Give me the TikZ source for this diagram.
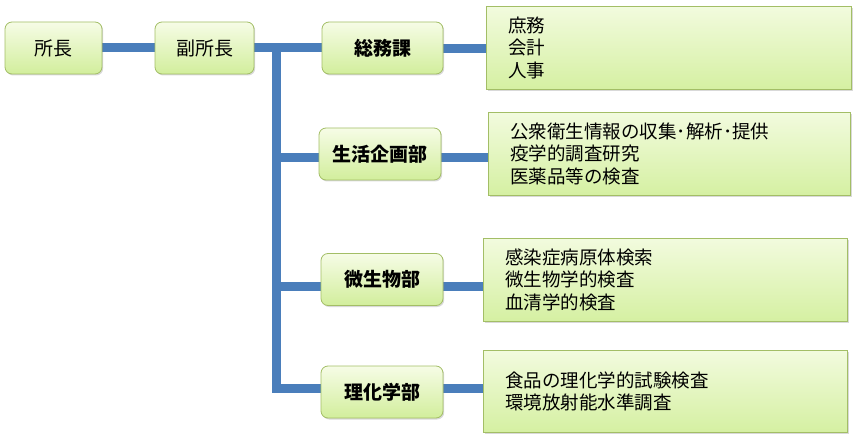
\documentclass[tikz,border=0pt]{standalone}
\usepackage{fontspec}
\newfontfamily\jp{Noto Sans CJK JP}
\usetikzlibrary{shadows,backgrounds}
\definecolor{lnk}{HTML}{4A7EBB}
\definecolor{bord}{HTML}{A3BE66}
\definecolor{gtop}{HTML}{F6FCE6}
\definecolor{gbot}{HTML}{D2EE9C}
\definecolor{ltop}{HTML}{F2FBDE}
\definecolor{lbot}{HTML}{D5F0A2}
\begin{document}
\begin{tikzpicture}[x=1pt,y=-1pt,
  unit/.style={draw=bord, line width=0.8pt, rounded corners=7pt,
    top color=gtop, bottom color=gbot, minimum height=52pt, inner sep=0pt,
    drop shadow={shadow xshift=1.2pt, shadow yshift=-1.5pt, opacity=0.3},
    font=\jp\fontsize{19}{22}\selectfont},
  dept/.style={unit, font=\jp\bfseries\fontsize{19}{22}\selectfont},
  listbox/.style={draw=bord, line width=0.8pt, top color=ltop, bottom color=lbot,
    minimum height=83pt, inner xsep=22pt, inner ysep=0pt, align=left,
    text width=321pt, minimum width=365pt, anchor=north west,
    drop shadow={shadow xshift=1.5pt, shadow yshift=-1.5pt, opacity=0.3},
    font=\jp\fontsize{18.5}{22.5}\selectfont},
  link/.style={draw=lnk, line width=9pt}
]
\useasboundingbox (0,0) rectangle (858,443);

\coordinate (tt) at (276,48);
\coordinate (tb) at (276,392.5);
\coordinate (t2) at (272,158);
\coordinate (t3) at (272,286);
\coordinate (t4) at (272,388);

\node[unit, minimum width=97pt] (A) at (53.5,48) {所長};
\node[unit, minimum width=99pt] (B) at (204.5,48) {副所長};
\node[dept, minimum width=121pt] (C) at (382.5,48) {総務課};
\node[dept, minimum width=122pt] (D) at (380,154) {生活企画部};
\node[dept, minimum width=122pt] (E) at (382,279.5) {微生物部};
\node[dept, minimum width=122pt] (F) at (382,392) {理化学部};

\node[listbox] (L1) at (486,6) {庶務\\会計\\人事};
\node[listbox, minimum width=362pt, text width=318pt] (L2) at (488,112) {公衆衛生情報の収集･解析･提供\\疫学的調査研究\\医薬品等の検査};
\node[listbox, minimum width=364pt, text width=320pt] (L3) at (483,238) {感染症病原体検索\\微生物学的検査\\血清学的検査};
\node[listbox, minimum width=364pt, text width=320pt, minimum height=82pt] (L4) at (483,350) {食品の理化学的試験検査\\環境放射能水準調査};

\begin{scope}[on background layer]
\draw[link] (A.east) -- (B.west);
\draw[link] (B.east) -- (C.west);
\draw[link] (tt) -- (tb);
\draw[link] (t2) -- (t2 -| D.west);
\draw[link] (t3) -- (t3 -| E.west);
\draw[link] (t4) -- (t4 -| F.west);
\draw[link] (C.east |- 0,49) -- (L1.west |- 0,49);
\draw[link] (D.east |- t2) -- (L2.west |- t2);
\draw[link] (E.east |- t3) -- (L3.west |- t3);
\draw[link] (F.east |- t4) -- (L4.west |- t4);
\end{scope}
\end{tikzpicture}
\end{document}
